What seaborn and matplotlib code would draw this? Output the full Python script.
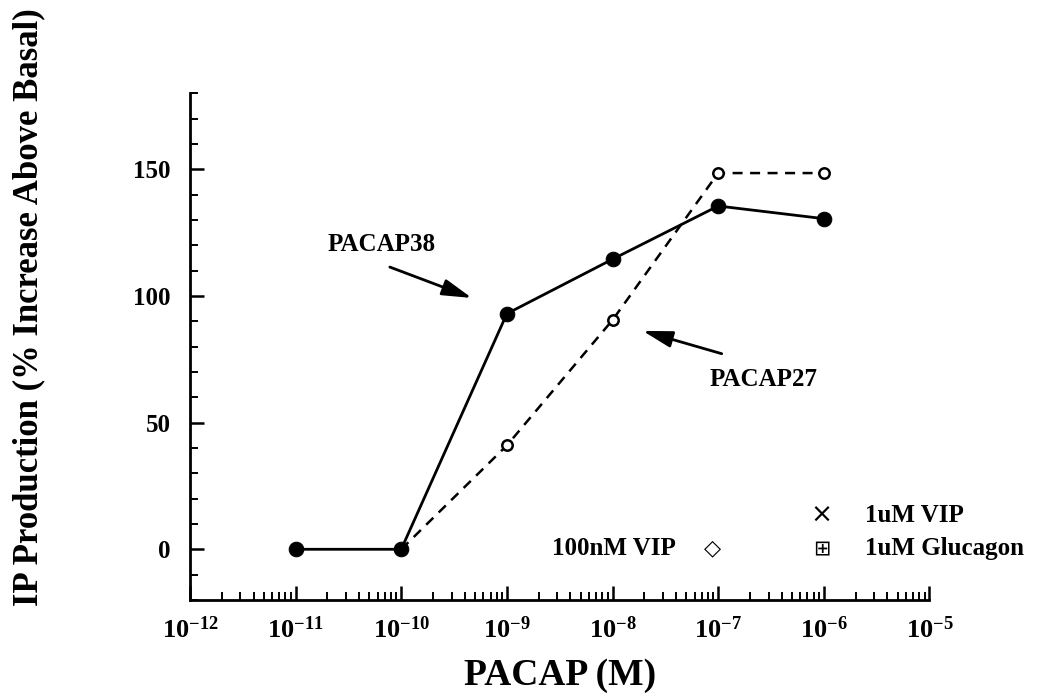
import numpy as np
import pandas as pd
import matplotlib
matplotlib.use("Agg")
import matplotlib.pyplot as plt
import seaborn as sns

# ---- data ----
conc38 = [1e-11, 1e-10, 1e-9, 1e-8, 1e-7, 1e-6]
pacap38 = [0, 0, 93, 114.5, 135.5, 130.5]
conc27 = [1e-10, 1e-9, 1e-8, 1e-7, 1e-6]
pacap27 = [0, 41, 90.5, 148.5, 148.5]
xtick_exps = [-12, -11, -10, -9, -8, -7, -6, -5]
yticks_major = [0, 50, 100, 150]

sns.set_style("ticks")
plt.rcParams['font.family'] = ['Liberation Serif', 'DejaVu Serif']
plt.rcParams['font.weight'] = 'bold'
plt.rcParams['mathtext.fontset'] = 'custom'
plt.rcParams['mathtext.rm'] = 'Liberation Serif:bold'
plt.rcParams['mathtext.bf'] = 'Liberation Serif:bold'
for k in ['text.color', 'axes.labelcolor', 'xtick.color', 'ytick.color', 'axes.edgecolor']:
    plt.rcParams[k] = 'black'

df38 = pd.DataFrame({"x": conc38, "y": pacap38})
df27 = pd.DataFrame({"x": conc27, "y": pacap27})

fig = plt.figure(figsize=(10.46, 6.96), dpi=100)
ax = fig.add_axes([0.1816, 0.138, 0.707, 0.728])

sns.lineplot(data=df27, x="x", y="y", ax=ax, color="black", linewidth=1.8,
             linestyle=(0, (4, 3)), marker="o", markersize=7.5,
             markerfacecolor="white", markeredgecolor="black",
             markeredgewidth=1.8, zorder=2)
sns.lineplot(data=df38, x="x", y="y", ax=ax, color="black", linewidth=2.0,
             marker="o", markersize=10.5, markerfacecolor="black",
             markeredgecolor="black", zorder=3)

ax.set_xscale("log")
ax.set_xlim(1e-12, 1e-5)
ax.set_ylim(-20, 180)
ax.set_xticks([10.0**e for e in xtick_exps])
ax.set_xticklabels([r"$\mathrm{10^{%d}}$" % e for e in xtick_exps], fontsize=19)
ax.xaxis.set_minor_locator(matplotlib.ticker.LogLocator(base=10, subs=np.arange(2, 10)))
ax.xaxis.set_minor_formatter(matplotlib.ticker.NullFormatter())
ax.set_yticks(yticks_major)
ax.set_yticklabels([str(v) for v in yticks_major], fontsize=18, fontweight="bold")
ax.yaxis.set_minor_locator(matplotlib.ticker.MultipleLocator(10))

ax.tick_params(axis="both", which="major", direction="in", length=10, width=1.8)
ax.tick_params(axis="x", which="major", pad=12)
ax.tick_params(axis="y", which="major", pad=14)
ax.tick_params(axis="both", which="minor", direction="in", length=6, width=1.4)
for s in ["top", "right"]:
    ax.spines[s].set_visible(False)
for s in ["left", "bottom"]:
    ax.spines[s].set_linewidth(2.0)

ax.set_xlabel("PACAP (M)", fontsize=27, fontweight="bold")
ax.set_ylabel("IP Production (% Increase Above Basal)", fontsize=25,
              fontweight="bold")
ax.yaxis.set_label_coords(-0.195, 0.578)
ax.xaxis.set_label_coords(0.501, -0.115)

# annotations
arrow = dict(arrowstyle="-|>,head_length=1.8,head_width=0.5",
             color="black", lw=2.0, shrinkA=0, shrinkB=0)
ax.annotate("", xy=(4.66e-10, 99.2), xytext=(7.8e-11, 111.4), arrowprops=arrow)
ax.text(2.0e-11, 120.5, "PACAP38", fontsize=18, fontweight="bold", va="center")
ax.annotate("", xy=(1.93e-8, 86.2), xytext=(1.08e-7, 77.2), arrowprops=arrow)
ax.text(8.3e-8, 67, "PACAP27", fontsize=18, fontweight="bold", va="center")

# legend-like text
ax.text(9.5e-7, 13.4, "\u00d7", fontsize=19, ha="center", va="center",
        family=["DejaVu Sans"], fontweight="normal", clip_on=False)
ax.text(2.43e-6, 13.4, "1uM VIP", fontsize=18, fontweight="bold", va="center", clip_on=False)
ax.text(9.5e-7, 0.4, "\u229e", fontsize=15, ha="center", va="center",
        family=["DejaVu Sans"], fontweight="normal", clip_on=False)
ax.text(2.43e-6, 0.4, "1uM Glucagon", fontsize=18, fontweight="bold", va="center", clip_on=False)
ax.text(2.65e-9, 0.4, "100nM VIP", fontsize=18, fontweight="bold", va="center", clip_on=False)
ax.text(8.8e-8, 0.4, "\u25c7", fontsize=16, ha="center", va="center",
        family=["DejaVu Sans"], fontweight="bold", clip_on=False)

fig.savefig("out.png", dpi=100)
